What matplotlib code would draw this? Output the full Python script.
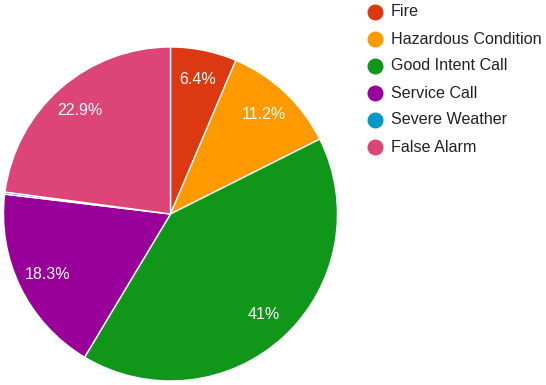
import matplotlib.pyplot as plt
from matplotlib.lines import Line2D

categories = ['Fire', 'Hazardous Condition', 'Good Intent Call', 'Service Call',
              'Severe Weather', 'False Alarm']
shares = [6.4, 11.2, 41.0, 18.3, 0.2, 22.9]
colors = ['#dc3912', '#ff9900', '#109618', '#990099', '#0099c6', '#dd4477']

plt.rcParams['font.family'] = ['Liberation Sans', 'DejaVu Sans']

W, H = 546, 385
fig = plt.figure(figsize=(W / 100, H / 100), dpi=100)
# pie centred at (170, 214) px, radius 167 px
ax = fig.add_axes([3.5 / W, 4 / H, 334 / W, 334 / H])


def pct_label(p):
    # no trailing .0, hide tiny slices
    if p < 1:
        return ''
    return f'{p:.1f}'.rstrip('0').rstrip('.') + '%'


wedges, texts, autotexts = ax.pie(
    shares, colors=colors, startangle=90, counterclock=False,
    autopct=pct_label, pctdistance=0.82,
    wedgeprops=dict(edgecolor='white', linewidth=1),
    textprops=dict(color='white', fontsize=11.5))
ax.set_xlim(-1, 1)
ax.set_ylim(-1, 1)
ax.set_aspect('auto')

# legend on the right, one dot per category
ys = [12, 39, 66, 93, 120, 147]
for lab, col, y in zip(categories, colors, ys):
    fy = 1 - y / H
    fig.add_artist(Line2D([375 / W], [fy], marker='o', markersize=11.5,
                          color=col, markeredgewidth=0,
                          transform=fig.transFigure))
    fig.text(391 / W, fy, lab, color='#222222', fontsize=11.6,
             ha='left', va='center')

fig.savefig('out.png', dpi=100)
